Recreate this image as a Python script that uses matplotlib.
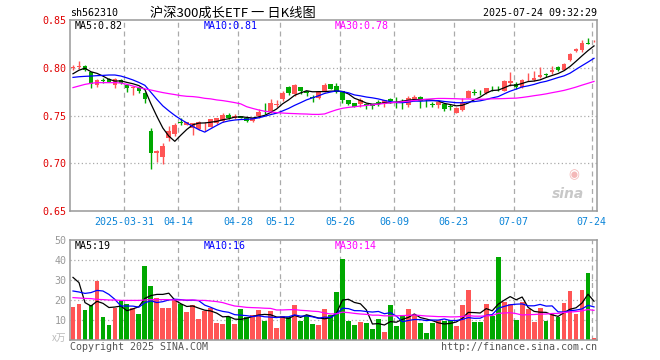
import numpy as np
import pandas as pd
import matplotlib
matplotlib.use("Agg")
import matplotlib.pyplot as plt

# daily candles, 2025-03-18 .. 2025-07-24
opens = [0.800, 0.801, 0.802, 0.796, 0.7819, 0.787, 0.7882, 0.7819, 0.7875, 0.7816,
         0.7790, 0.7792, 0.774, 0.7334, 0.7105, 0.707, 0.7264, 0.7306, 0.7430, 0.7403,
         0.7368, 0.7358, 0.7408, 0.7382, 0.742, 0.7444, 0.7504, 0.7472, 0.7497, 0.7479,
         0.7444, 0.7497, 0.7578, 0.7549, 0.7608, 0.767, 0.7802, 0.7729, 0.7795, 0.7757,
         0.769, 0.7681, 0.7757, 0.7826, 0.7809, 0.7757, 0.766, 0.7628, 0.7618, 0.762,
         0.7618, 0.7637, 0.7625, 0.7674, 0.7655, 0.7655, 0.7611, 0.767, 0.7698, 0.7655,
         0.762, 0.7611, 0.7625, 0.7596, 0.7531, 0.7555, 0.7684, 0.7745, 0.7738, 0.7736,
         0.779, 0.7783, 0.7761, 0.784, 0.783, 0.7795, 0.7873, 0.7872, 0.7899, 0.7938,
         0.7951, 0.8003, 0.7979, 0.8076, 0.8177, 0.8187, 0.8257, 0.8283]
highs = [0.803, 0.807, 0.803, 0.796, 0.7878, 0.789, 0.789, 0.789, 0.788, 0.7833,
         0.7809, 0.780, 0.7745, 0.7368, 0.7143, 0.7208, 0.7392, 0.742, 0.7469, 0.743,
         0.7425, 0.7444, 0.7427, 0.7465, 0.7476, 0.7531, 0.7521, 0.7514, 0.750, 0.748,
         0.747, 0.7566, 0.7635, 0.767, 0.7663, 0.7757, 0.7805, 0.7833, 0.780, 0.776,
         0.7715, 0.7757, 0.7837, 0.7835, 0.7844, 0.776, 0.7665, 0.763, 0.7681, 0.7635,
         0.762, 0.766, 0.7665, 0.7688, 0.7694, 0.767, 0.7709, 0.7715, 0.770, 0.767,
         0.7642, 0.7645, 0.763, 0.7618, 0.7585, 0.7684, 0.7765, 0.7778, 0.7771, 0.779,
         0.7813, 0.7806, 0.7875, 0.7951, 0.7851, 0.7885, 0.7944, 0.7962, 0.8007, 0.794,
         0.8014, 0.8021, 0.8045, 0.815, 0.8205, 0.8291, 0.8316, 0.8291]
lows = [0.798, 0.799, 0.797, 0.7792, 0.7799, 0.7844, 0.785, 0.7792, 0.7835, 0.775,
        0.7715, 0.774, 0.7635, 0.6935, 0.7018, 0.6994, 0.7236, 0.7282, 0.740, 0.7396,
        0.7299, 0.7351, 0.7341, 0.7375, 0.7415, 0.7427, 0.7462, 0.7462, 0.7475, 0.7427,
        0.7427, 0.7479, 0.7514, 0.7531, 0.759, 0.7653, 0.7715, 0.7705, 0.7722, 0.7705,
        0.7646, 0.767, 0.7747, 0.7775, 0.774, 0.7635, 0.761, 0.759, 0.7594, 0.7566,
        0.7573, 0.7601, 0.7594, 0.7635, 0.7583, 0.7573, 0.759, 0.7653, 0.7583, 0.759,
        0.759, 0.7576, 0.7542, 0.7556, 0.7521, 0.7545, 0.768, 0.7719, 0.7719, 0.773,
        0.7761, 0.7761, 0.7754, 0.7813, 0.7778, 0.7788, 0.7858, 0.7858, 0.7892, 0.7899,
        0.7938, 0.7969, 0.7975, 0.807, 0.817, 0.817, 0.825, 0.8274]
closes = [0.801, 0.802, 0.7976, 0.7833, 0.7868, 0.7865, 0.7854, 0.7882, 0.7844, 0.7788,
          0.7795, 0.7757, 0.7677, 0.7105, 0.7125, 0.7181, 0.7334, 0.7403, 0.7425, 0.7427,
          0.742, 0.7427, 0.7412, 0.7462, 0.7472, 0.7504, 0.7479, 0.7497, 0.7479, 0.7444,
          0.7469, 0.7538, 0.7574, 0.7635, 0.7625, 0.774, 0.774, 0.7816, 0.776, 0.774,
          0.7686, 0.7747, 0.7819, 0.7781, 0.775, 0.766, 0.7618, 0.7594, 0.7663, 0.7616,
          0.7601, 0.7633, 0.7663, 0.7653, 0.7651, 0.7651, 0.7681, 0.7698, 0.7653, 0.7651,
          0.7616, 0.7642, 0.7573, 0.7592, 0.7583, 0.7645, 0.7761, 0.7741, 0.7734, 0.7788,
          0.7786, 0.7779, 0.7865, 0.7865, 0.7795, 0.7875, 0.7877, 0.7892, 0.7927, 0.792,
          0.7979, 0.7979, 0.8042, 0.8146, 0.8194, 0.8264, 0.8253, 0.8287]
# volume, 万
volumes = [16.5, 18, 15, 17.5, 29.7, 11.5, 7.5, 16.2, 20, 18,
           16, 13, 37, 27, 21, 16, 16, 19.8, 18, 14,
           17.3, 10.5, 14.7, 16.2, 8.5, 8, 11.5, 8, 15.5, 11.5,
           12.5, 15, 9.5, 14.5, 6, 12, 11.5, 17.5, 9.5, 12.5,
           8, 7.5, 15.5, 12.3, 24, 40.5, 9.5, 7.5, 9, 8.5,
           5.5, 10.5, 4, 17.5, 7, 12.5, 15.5, 12.5, 8.5, 3.5,
           8.5, 10, 9.5, 10, 7, 17.5, 25, 9, 9, 18,
           12, 41.5, 19, 18, 10, 19, 15.5, 9, 16, 9.5,
           13, 11.5, 18.5, 24.5, 13, 25, 33.5, 1]

# MA values before the window has enough history
ma5_head = [0.7937, 0.7974, 0.7995, 0.7958]
ma10_head = [0.7899, 0.7906, 0.791, 0.7913, 0.7917, 0.792, 0.7924, 0.7924, 0.7913]
ma30_head = [0.7792, 0.7809, 0.7826, 0.7837, 0.7844, 0.7844, 0.7844, 0.7844, 0.784, 0.7826,
             0.7809, 0.7792, 0.7778, 0.7767, 0.7753, 0.774, 0.7729, 0.7719, 0.7708, 0.7701,
             0.7698, 0.7691, 0.768, 0.7674, 0.7663, 0.7656, 0.7646, 0.7635, 0.7622]
vma5_head = [31.3, 28.7, 18.7, 17]
vma10_head = [24.5, 24, 23.3, 23.7, 24.8, 24.5, 22.8, 20.3, 17]
vma30_head = [21.2, 21, 20.8, 20.7, 20.3, 20.2, 20, 20, 19.8, 19.8,
              19.8, 19.8, 20, 20.2, 20.2, 20.2, 20.2, 20, 20, 20,
              20, 19.8, 19.8, 19.5, 19.2, 18.7, 17.8, 17, 16.7]

tick_idx = [9, 18, 28, 35, 45, 54, 64, 74, 87]
tick_labels = ["2025-03-31", "04-14", "04-28", "05-12", "05-26",
               "06-09", "06-23", "07-07", "07-24"]
price_ticks = [0.65, 0.70, 0.75, 0.80, 0.85]
vol_ticks = [10, 20, 30, 40, 50]
price_ma_labels = ["MA5:0.82", "MA10:0.81", "MA30:0.78"]
vol_ma_labels = ["MA5:19", "MA10:16", "MA30:14"]

RED = "#ff5555"
GREEN = "#00a800"
MA_COLORS = ["black", "#0000ff", "#ff00ff"]
GRID = "#aaaaaa"
MONO = "DejaVu Sans Mono"

W, H = 660, 360


def ma(values, n, head):
    s = pd.Series(values).rolling(n).mean().to_numpy()
    s[:len(head)] = head
    return s


def px(x, y):
    return x / W, 1 - y / H


x = np.arange(len(closes))
o = np.array(opens)
c = np.array(closes)
up = c >= o
colors = np.where(up, RED, GREEN)

fig = plt.figure(figsize=(W / 100, H / 100), dpi=100)
ax_p = fig.add_axes([70 / W, 1 - 211 / H, 527 / W, 191 / H])
ax_v = fig.add_axes([70 / W, 1 - 340 / H, 527 / W, 100 / H])

for ax in (ax_p, ax_v):
    ax.set_xlim(-0.5, len(closes) - 0.5)
    for s in ax.spines.values():
        s.set_color("#999999")
        s.set_linewidth(1.1)
    for t in tick_idx:
        ax.axvline(t - 0.4, color="#aaaaaa", lw=0.9, ls=(0, (4, 3)), zorder=0)
    ax.tick_params(length=0)

# price panel
ax_p.set_ylim(0.65, 0.85)
for yv in price_ticks[1:-1]:
    ax_p.axhline(yv, color=GRID, lw=0.9, ls=(0, (1, 2)), zorder=0)
ax_p.vlines(x, lows, highs, colors=colors, lw=1.0, zorder=2)
body = np.maximum(np.abs(c - o), 0.0004)
bottom = np.minimum(o, c) - np.where(np.abs(c - o) < 0.0004, 0.0002, 0)
ax_p.bar(x, body, bottom=bottom, width=0.78, color=colors, linewidth=0, zorder=3)
for n, head, col in zip((5, 10, 30), (ma5_head, ma10_head, ma30_head), MA_COLORS):
    ax_p.plot(x, ma(closes, n, head), color=col, lw=0.9, zorder=4)
ax_p.set_yticks(price_ticks)
ax_p.set_yticklabels([f"{v:.2f}" for v in price_ticks], color="#e00000",
                     family=MONO, fontsize=7.2)
ax_p.tick_params(axis="y", pad=2.5)
ax_p.set_xticks([t - 0.4 for t in tick_idx])
ax_p.set_xticklabels(tick_labels, color="#0a84d8", family=MONO, fontsize=7.2)
ax_p.tick_params(axis="x", pad=4.5)
for lab, col, xx in zip(price_ma_labels, MA_COLORS, (75, 204, 335)):
    fig.text(*px(xx, 26), lab, color=col, family=MONO, fontsize=7.2, va="center")
ax_p.text(0.975, 0.09, "sina", transform=ax_p.transAxes, ha="right", va="center",
          color="#c8c8c8", fontsize=10, fontweight="bold", style="italic", zorder=1)
ax_p.text(0.955, 0.19, "◉", transform=ax_p.transAxes, ha="center", va="center",
          color="#f4b8b8", fontsize=9, zorder=1)

# volume panel
ax_v.set_ylim(0, 50)
for yv in vol_ticks[:-1]:
    ax_v.axhline(yv, color=GRID, lw=0.9, ls=(0, (1, 2)), zorder=0)
ax_v.bar(x, volumes, width=0.8, color=colors, linewidth=0, zorder=2)
for n, head, col in zip((5, 10, 30), (vma5_head, vma10_head, vma30_head), MA_COLORS):
    ax_v.plot(x, ma(volumes, n, head), color=col, lw=0.9, zorder=4)
ax_v.set_yticks(vol_ticks)
ax_v.set_yticklabels([str(v) for v in vol_ticks], color="#999999",
                     family=MONO, fontsize=7.2)
ax_v.tick_params(axis="y", pad=2.5)
ax_v.set_xticks([])
for lab, col, xx in zip(vol_ma_labels, MA_COLORS, (75, 204, 335)):
    fig.text(*px(xx, 246), lab, color=col, family=MONO, fontsize=7.2, va="center")

# header / footer texts
fig.text(*px(70, 13), "sh562310", family=MONO, fontsize=7.2, va="center")
fig.text(*px(233, 13), "沪深300成长ETF 一 日K线图", family=["Noto Sans CJK SC", "DejaVu Sans"],
         fontsize=9.5, ha="center", va="center")
fig.text(*px(597, 13), "2025-07-24 09:32:29", family=MONO, fontsize=7.2,
         ha="right", va="center")
fig.text(*px(66, 338), "x万", family=["Noto Sans CJK SC", "DejaVu Sans"], fontsize=7,
         color="#bbbbbb", ha="right", va="center")
fig.text(*px(70, 347), "Copyright 2025 SINA.COM", family=MONO, fontsize=7.2,
         color="#555555", va="center")
fig.text(*px(597, 347), "http://finance.sina.com.cn", family=MONO, fontsize=7.2,
         color="#555555", ha="right", va="center")

fig.savefig("out.png", dpi=100)
